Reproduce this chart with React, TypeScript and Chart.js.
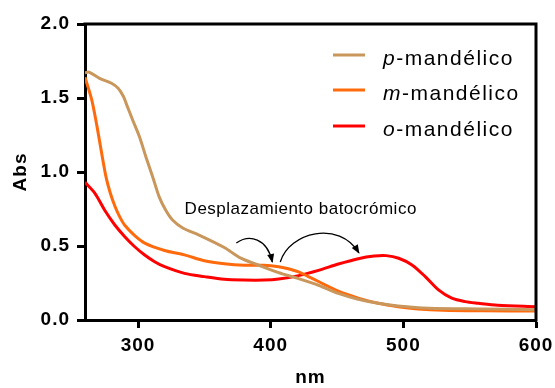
import React, { useEffect, useRef } from 'react';
import { Chart, registerables } from 'chart.js';

Chart.register(...registerables);

// ---- data ----
const pWavelength = [260, 263, 271, 280, 285, 289, 291, 296, 301, 306, 311, 316, 321, 326, 334, 346, 365, 377, 391, 406, 421, 436, 451, 466, 481, 496, 519, 560, 600];
const pAbs = [1.67, 1.675, 1.633, 1.6, 1.566, 1.51, 1.464, 1.35, 1.24, 1.1, 0.968, 0.83, 0.74, 0.676, 0.62, 0.574, 0.49, 0.42, 0.37, 0.32, 0.28, 0.235, 0.18, 0.14, 0.113, 0.095, 0.08, 0.075, 0.07];

const mWavelength = [260, 265, 269, 272.5, 276, 279, 282.5, 286, 290, 297.5, 305, 320, 335, 350, 365, 380, 395, 406, 414, 421, 428, 436, 451, 466, 481, 496, 511, 530, 560, 600];
const mAbs = [1.64, 1.49, 1.31, 1.13, 0.96, 0.86, 0.77, 0.7, 0.64, 0.57, 0.52, 0.47, 0.44, 0.4, 0.38, 0.37, 0.37, 0.36, 0.345, 0.325, 0.295, 0.26, 0.195, 0.148, 0.113, 0.09, 0.075, 0.066, 0.062, 0.06];

const oWavelength = [260, 267.5, 275, 282.5, 290, 297.5, 305, 312.5, 320, 335, 350, 365, 380, 395, 406, 421, 436, 451, 466, 478, 487, 496.5, 506.5, 516.5, 526.5, 536.5, 546.5, 556.5, 571, 600];
const oAbs = [0.93, 0.856, 0.74, 0.642, 0.563, 0.495, 0.439, 0.394, 0.36, 0.315, 0.293, 0.275, 0.27, 0.27, 0.277, 0.3, 0.335, 0.378, 0.414, 0.432, 0.435, 0.417, 0.372, 0.293, 0.203, 0.147, 0.124, 0.113, 0.1, 0.09];

const seriesPrefix = ['p', 'm', 'o'];
const seriesSuffix = '-mandélico';
const seriesColors = ['#C9965B', '#FF6A0D', '#FF0000'];

const xTicks = [300, 400, 500, 600];
const yTicks = [0, 0.5, 1, 1.5, 2];
const xTitle = 'nm';
const yTitle = 'Abs';

const annotationText = 'Desplazamiento batocrómico';
const annotationAnchor = [335.1, 0.716];
const arrow1 = [[374.1, 0.52], [383.8, 0.581], [397.4, 0.554], [401.2, 0.392]];
const arrow2 = [[407.2, 0.392], [414.0, 0.595], [451.5, 0.676], [466.5, 0.453]];

const FONT = '"Liberation Sans", Arial, Helvetica, sans-serif';

function toXY(xs: number[], ys: number[]) {
  return xs.map((x, i) => ({ x, y: ys[i] }));
}

const spacingPlugin = {
  id: 'spacing',
  beforeLayout(chart: any) {
    chart.ctx.letterSpacing = '1px';
  },
  beforeDraw(chart: any) {
    chart.ctx.letterSpacing = '1px';
  },
};

const framePlugin = {
  id: 'frame',
  afterDraw(chart: any) {
    const { ctx, chartArea: ca } = chart;
    ctx.save();
    ctx.strokeStyle = '#000';
    ctx.lineWidth = 3;
    ctx.lineCap = 'square';
    ctx.beginPath();
    ctx.moveTo(ca.left, ca.top);
    ctx.lineTo(ca.right, ca.top);
    ctx.lineTo(ca.right, ca.bottom);
    ctx.stroke();
    ctx.restore();
  },
};

const legendPlugin = {
  id: 'customLegend',
  afterDraw(chart: any) {
    const { ctx, chartArea: ca } = chart;
    ctx.save();
    const rows = [31, 66, 102];
    seriesPrefix.forEach((pre, i) => {
      const y = ca.top + rows[i];
      ctx.strokeStyle = seriesColors[i];
      ctx.lineWidth = 3;
      ctx.beginPath();
      ctx.moveTo(ca.left + 248, y);
      ctx.lineTo(ca.left + 280, y);
      ctx.stroke();
      ctx.fillStyle = '#000';
      ctx.textBaseline = 'alphabetic';
      ctx.textAlign = 'left';
      ctx.letterSpacing = '1.5px';
      let x = ca.left + 298;
      ctx.font = `italic 21px ${FONT}`;
      ctx.fillText(pre, x, y + 10);
      x += ctx.measureText(pre).width;
      ctx.font = `21px ${FONT}`;
      ctx.fillText(seriesSuffix, x, y + 10);
    });
    ctx.restore();
  },
};

function drawArrow(ctx: any, xs: any, ys: any, pts: number[][]) {
  const p = pts.map(([a, b]) => [xs.getPixelForValue(a), ys.getPixelForValue(b)]);
  ctx.beginPath();
  ctx.moveTo(p[0][0], p[0][1]);
  ctx.bezierCurveTo(p[1][0], p[1][1], p[2][0], p[2][1], p[3][0], p[3][1]);
  ctx.stroke();
  const dx = p[3][0] - p[2][0];
  const dy = p[3][1] - p[2][1];
  const len = Math.hypot(dx, dy) || 1;
  const ux = dx / len;
  const uy = dy / len;
  const L = 8;
  const W = 3.5;
  const bx = p[3][0] - ux * L;
  const by = p[3][1] - uy * L;
  ctx.beginPath();
  ctx.moveTo(p[3][0] + ux * 1, p[3][1] + uy * 1);
  ctx.lineTo(bx - uy * W, by + ux * W);
  ctx.lineTo(bx + uy * W, by - ux * W);
  ctx.closePath();
  ctx.fill();
}

const annotationPlugin = {
  id: 'annotation',
  afterDatasetsDraw(chart: any) {
    const { ctx } = chart;
    const xs = chart.scales.x;
    const ys = chart.scales.y;
    ctx.save();
    ctx.fillStyle = '#000';
    ctx.letterSpacing = '0.5px';
    ctx.font = `17px ${FONT}`;
    ctx.textAlign = 'left';
    ctx.textBaseline = 'alphabetic';
    ctx.fillText(annotationText, xs.getPixelForValue(annotationAnchor[0]), ys.getPixelForValue(annotationAnchor[1]));
    ctx.strokeStyle = '#000';
    ctx.lineWidth = 1.3;
    drawArrow(ctx, xs, ys, arrow1);
    drawArrow(ctx, xs, ys, arrow2);
    ctx.restore();
  },
};

export default function App() {
  const ref = useRef<HTMLCanvasElement>(null);
  useEffect(() => {
    const datasets = [
      { data: toXY(pWavelength, pAbs), borderColor: seriesColors[0] },
      { data: toXY(mWavelength, mAbs), borderColor: seriesColors[1] },
      { data: toXY(oWavelength, oAbs), borderColor: seriesColors[2] },
    ].map((d, i) => ({
      ...d,
      label: seriesPrefix[i] + seriesSuffix,
      borderWidth: 3,
      pointRadius: 0,
      fill: false,
      tension: 0.3,
    }));
    const chart = new Chart(ref.current!, {
      type: 'line',
      data: { datasets },
      options: {
        responsive: false,
        animation: false,
        devicePixelRatio: 1,
        layout: { padding: { left: 0, top: 24, right: 19, bottom: 0 } },
        plugins: { legend: { display: false }, tooltip: { enabled: false } },
        scales: {
          x: {
            type: 'linear',
            min: 260,
            max: 600,
            afterBuildTicks: (s: any) => { s.ticks = xTicks.map((v) => ({ value: v })); },
            afterFit: (s: any) => { s.height = 68; s.paddingLeft = 0; s.paddingRight = 0; },
            grid: { display: true, drawOnChartArea: false, drawTicks: true, tickLength: 8, tickWidth: 3, tickColor: '#000' },
            border: { display: true, color: '#000', width: 3 },
            ticks: {
              color: '#000',
              padding: 6,
              maxRotation: 0,
              autoSkip: false,
              font: { family: FONT, size: 19, weight: 'bold' },
              callback: (v: any) => String(v),
            },
            title: {
              display: true,
              text: xTitle,
              color: '#000',
              font: { family: FONT, size: 19, weight: 'bold', lineHeight: 1 },
              padding: { top: 0, bottom: 0.5 },
            },
          },
          y: {
            type: 'linear',
            min: 0,
            max: 2,
            afterBuildTicks: (s: any) => { s.ticks = yTicks.map((v) => ({ value: v })); },
            afterFit: (s: any) => { s.width = 85; s.paddingTop = 0; s.paddingBottom = 0; },
            grid: { display: true, drawOnChartArea: false, drawTicks: true, tickLength: 8, tickWidth: 3, tickColor: '#000' },
            border: { display: true, color: '#000', width: 3 },
            ticks: {
              color: '#000',
              padding: 7,
              autoSkip: false,
              font: { family: FONT, size: 19, weight: 'bold' },
              callback: (v: any) => Number(v).toFixed(1),
            },
            title: {
              display: true,
              text: yTitle,
              color: '#000',
              font: { family: FONT, size: 19, weight: 'bold', lineHeight: 1 },
              padding: { top: 11, bottom: 0 },
            },
          },
        },
      },
      plugins: [spacingPlugin, annotationPlugin, framePlugin, legendPlugin],
    });
    return () => chart.destroy();
  }, []);
  return (
    <div style={{ position: 'fixed', left: 0, top: 0, width: 555, height: 388, background: '#fff' }}>
      <canvas ref={ref} width={555} height={388} style={{ display: 'block', width: 555, height: 388 }} />
    </div>
  );
}
